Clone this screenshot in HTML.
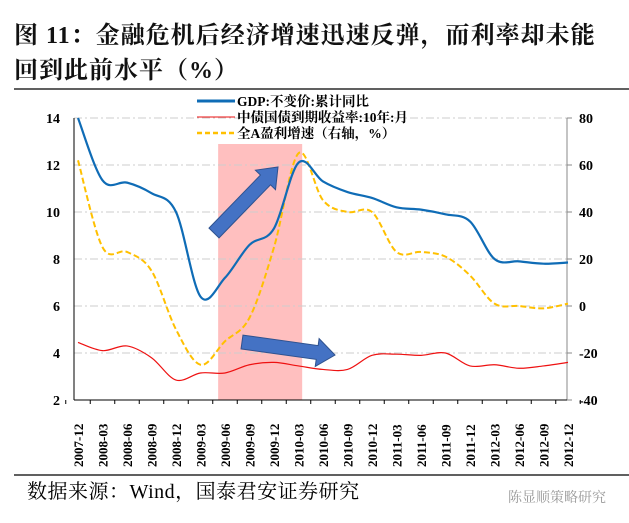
<!DOCTYPE html>
<html><head><meta charset="utf-8"><style>
body{margin:0;background:#fff;width:629px;height:518px;overflow:hidden;font-family:"Liberation Serif","Noto Serif CJK SC",serif}
</style></head><body>
<svg width="629" height="518" xmlns="http://www.w3.org/2000/svg">
<g id="root"></g>
</svg>
<script>
const categories=["2007-12","2008-03","2008-06","2008-09","2008-12","2009-03","2009-06","2009-09","2009-12","2010-03","2010-06","2010-09","2010-12","2011-03","2011-06","2011-09","2011-12","2012-03","2012-06","2012-09","2012-12"];
const gdp=[14.0,11.35,11.25,10.8,10.0,6.4,7.2,8.6,9.3,12.1,11.3,10.85,10.6,10.2,10.1,9.9,9.6,8.0,7.9,7.8,7.85];
const profit=[62,25,23,15,-10,-25,-15,-5,25,65,45,40,40,23,23,21,13,1,0,-1,1];
const bond=[4.45,4.1,4.3,3.8,2.85,3.15,3.15,3.5,3.6,3.45,3.3,3.3,3.9,3.95,3.9,4.0,3.45,3.5,3.35,3.45,3.6];
const leftTicks=[2,4,6,8,10,12,14];
const rightTicks=[-40,-20,0,20,40,60,80];
const shadeRange=[5.72,9.15];
const NS="http://www.w3.org/2000/svg";
const root=document.getElementById('root');
const L=74,R=567,T=118,B=400;
const x=k=>78+k*24.5;
const yl=v=>B-(v-2)/12*(B-T);
const yr=v=>B-(v+40)/120*(B-T);
function el(t,a,txt){const e=document.createElementNS(NS,t);for(const k in a)e.setAttribute(k,a[k]);if(txt!==undefined)e.textContent=txt;root.appendChild(e);return e;}
function smooth(pts){let d=`M${pts[0][0]},${pts[0][1]}`;for(let i=0;i<pts.length-1;i++){const p0=pts[i-1]||pts[i],p1=pts[i],p2=pts[i+1],p3=pts[i+2]||p2;const c1=[p1[0]+(p2[0]-p0[0])/6,p1[1]+(p2[1]-p0[1])/6],c2=[p2[0]-(p3[0]-p1[0])/6,p2[1]-(p3[1]-p1[1])/6];d+=`C${c1[0]},${c1[1]} ${c2[0]},${c2[1]} ${p2[0]},${p2[1]}`;}return d;}
let e;
e=el('text',{x:14,y:43,'font-size':24,'font-weight':'bold',fill:'#111','letter-spacing':'1'},'图 11：金融危机后经济增速迅速反弹，而利率却未能');

e=el('text',{x:14,y:78,'font-size':24,'font-weight':'bold',fill:'#111','letter-spacing':'1'},'回到此前水平（%）');

el('line',{x1:14,y1:89,x2:629,y2:89,stroke:'#000','stroke-width':1.2});
e=el('rect',{x:x(shadeRange[0]),y:144,width:x(shadeRange[1])-x(shadeRange[0]),height:B-144,fill:'#ffbfbf'});

leftTicks.forEach(v=>{if(v>2)el('line',{x1:L,y1:yl(v),x2:R,y2:yl(v),stroke:'#ccc','stroke-dasharray':'8,3,2,3'});
 e=el('text',{x:L-14,y:yl(v)+5,'font-size':14,'font-weight':'bold','text-anchor':'end',fill:'#000'},v);
 });
rightTicks.forEach(v=>{el('line',{x1:R,y1:yr(v),x2:R+5,y2:yr(v),stroke:'#888'});
 e=el('text',{x:R+12,y:yr(v)+5,'font-size':14,'font-weight':'bold',fill:'#000'},v);
 });
el('line',{x1:L,y1:T,x2:L,y2:B,stroke:'#000'});
el('line',{x1:R,y1:T,x2:R,y2:B,stroke:'#888'});
el('line',{x1:L,y1:B,x2:R,y2:B,stroke:'#000'});
categories.forEach((c,k)=>{el('line',{x1:x(k)-12.25,y1:B,x2:x(k)-12.25,y2:B+4,stroke:'#000'});
 e=el('text',{transform:`translate(${x(k)+5},${B+67}) rotate(-90)`,'font-size':13,'font-weight':'bold',fill:'#000'},c);
 });
el('line',{x1:x(20)+12.25,y1:B,x2:x(20)+12.25,y2:B+4,stroke:'#000'});
e=el('path',{d:smooth(profit.map((v,k)=>[x(k),yr(v)])),fill:'none',stroke:'#ffc000','stroke-width':2,'stroke-dasharray':'6,3'});

e=el('path',{d:smooth(gdp.map((v,k)=>[x(k),yl(v)])),fill:'none',stroke:'#0f6cb6','stroke-width':2.2});

e=el('path',{d:smooth(bond.map((v,k)=>[x(k),yl(v)])),fill:'none',stroke:'#ee1111','stroke-width':1.2});

function arrow(x1,y1,x2,y2,name){const a=Math.atan2(y2-y1,x2-x1),len=Math.hypot(x2-x1,y2-y1);const w=7,hw=14,hl=18;
 const p=[[0,-w],[len-hl,-w],[len-hl,-hw],[len,0],[len-hl,hw],[len-hl,w],[0,w]].map(([u,v])=>[x1+u*Math.cos(a)-v*Math.sin(a),y1+u*Math.sin(a)+v*Math.cos(a)]);
 const g=el('polygon',{points:p.map(q=>q.join(',')).join(' '),fill:'#4472c4',stroke:'#2f528f','stroke-width':1});
 }
arrow(214,233,278,167,'up-arrow');
arrow(242,342,335,355,'right-arrow');
const leg=[['GDP:不变价:累计同比','#0f6cb6',3,''],['中债国债到期收益率:10年:月','#ee1111',1,''],['全A盈利增速（右轴，%）','#ffc000',2.5,'5,3']];
leg.forEach((l,i)=>{const yy=101+i*16;
 el('line',{x1:197,y1:yy,x2:235,y2:yy,stroke:l[1],'stroke-width':l[2],'stroke-dasharray':l[3]});
 e=el('text',{x:237,y:yy+5,'font-size':13.5,'font-weight':'bold',fill:'#000'},l[0]);
 });
el('line',{x1:14,y1:475,x2:629,y2:475,stroke:'#000','stroke-width':1.2});
e=el('text',{x:27,y:498,'font-size':20,fill:'#000','letter-spacing':'0.5'},'数据来源：Wind，国泰君安证券研究');

e=el('text',{x:508,y:502,'font-size':14,fill:'#999'},'陈显顺策略研究');

</script>
</body></html>
